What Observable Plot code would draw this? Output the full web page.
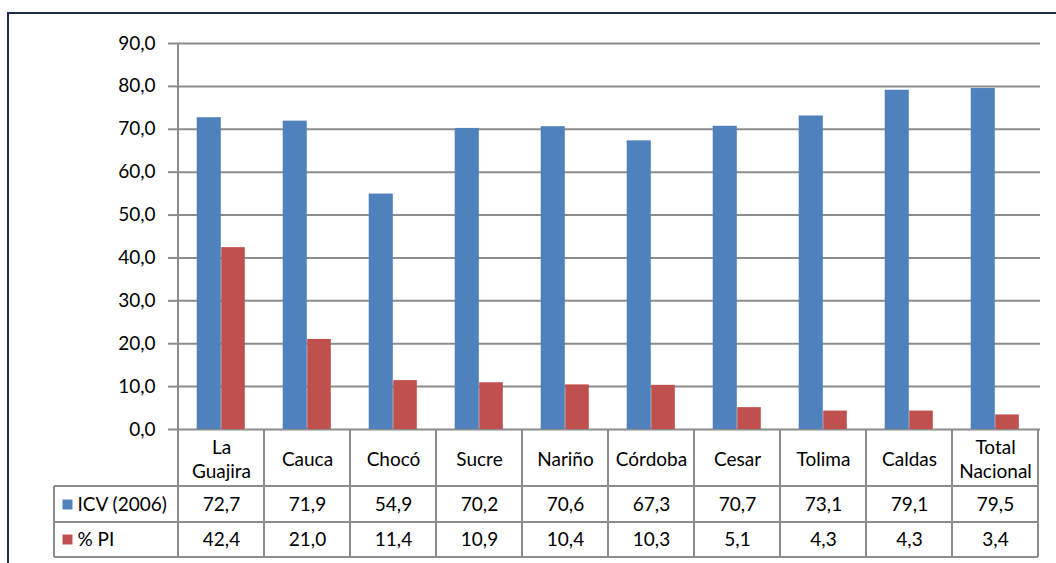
<!DOCTYPE html>
<html>
<head>
<meta charset="utf-8">
<script src="https://cdn.jsdelivr.net/npm/d3@7"></script>
<script src="https://cdn.jsdelivr.net/npm/@observablehq/plot@0.6"></script>
<style>
  html, body { margin: 0; padding: 0; background: #fff; overflow: hidden; }
  #wrap { position: relative; width: 1056px; height: 563px; }
  #frame { position: absolute; left: 7px; top: 12px; width: 1100px; height: 600px;
           border: 2px solid #1c2b49; pointer-events: none; }
  #chart { position: absolute; left: 0; top: 0; }
</style>
</head>
<body>
<div id="wrap"><div id="chart"></div><div id="frame"></div></div>
<script>
const categories = ["La Guajira", "Cauca", "Chocó", "Sucre", "Nariño", "Córdoba", "Cesar", "Tolima", "Caldas", "Total Nacional"];
const icv = [72.7, 71.9, 54.9, 70.2, 70.6, 67.3, 70.7, 73.1, 79.1, 79.5];
const pi = [42.4, 21.0, 11.4, 10.9, 10.4, 10.3, 5.1, 4.3, 4.3, 3.4];
const seriesNames = ["ICV (2006)", "% PI"];
const seriesColors = ["#4f81bd", "#c0504d"];
const yTicks = [0, 10, 20, 30, 40, 50, 60, 70, 80, 90];

const rows = categories.map((c, i) => ({cat: c, icv: icv[i], pi: pi[i]}));
const fmt = v => d3.format(".1f")(v).replace(".", ",");

const gridColor = "#8c8c8c";
const rowHeights = [57, 36, 35];
const legendLeft = 54;
const fs = 19;

function tableLines(index, scales, values, dims) {
  const x = scales.x;
  const bw = x.bandwidth();
  const g = d3.create("svg:g").attr("stroke", gridColor).attr("stroke-width", 2).attr("fill", "none");
  const top = dims.height - dims.marginBottom;
  const r1 = top + rowHeights[0];
  const r2 = r1 + rowHeights[1];
  const r3 = r2 + rowHeights[2];
  const x0 = x(categories[0]);
  const x1 = x(categories[categories.length - 1]) + bw;
  g.append("line").attr("x1", x0).attr("x2", x0).attr("y1", dims.marginTop).attr("y2", r3);
  categories.forEach((c, i) => {
    if (i === 0) return;
    g.append("line").attr("x1", x(c)).attr("x2", x(c)).attr("y1", top).attr("y2", r3);
  });
  g.append("line").attr("x1", x1).attr("x2", x1).attr("y1", top).attr("y2", r3);
  g.append("line").attr("x1", legendLeft).attr("x2", legendLeft).attr("y1", r1).attr("y2", r3);
  [r1, r2, r3].forEach(yy => {
    g.append("line").attr("x1", legendLeft).attr("x2", x1).attr("y1", yy).attr("y2", yy);
  });
  return g.node();
}

const bw = (1056 - 176 - 16) / categories.length;
const textStyle = {frameAnchor: "bottom", lineAnchor: "middle", fontSize: fs, fill: "#000"};
const legendText = (i, dy) => Plot.text([seriesNames[i]], {text: d => d, frameAnchor: "bottom-left", dx: 77 - 176, dy, lineAnchor: "middle", textAnchor: "start", fontSize: fs, fill: "#000"});
const legendSwatch = (i, dy) => Plot.dot([seriesNames[i]], {frameAnchor: "bottom-left", dx: 67 - 176, dy, symbol: "square", r: 5.6, fill: seriesColors[i], stroke: "none"});

const plot = Plot.plot({
  width: 1056,
  height: 563,
  marginLeft: 176,
  marginRight: 16,
  marginTop: 43,
  marginBottom: 134,
  style: {fontFamily: "Lato, 'Open Sans', sans-serif", fontSize: fs + "px", color: "#000", background: "transparent"},
  x: {domain: categories, padding: 0, axis: null},
  y: {domain: [0, 90], ticks: yTicks, tickFormat: fmt, label: null},
  marks: [
    Plot.gridY(yTicks, {stroke: gridColor, strokeOpacity: 1, strokeWidth: 2}),
    Plot.axisY({ticks: yTicks, tickFormat: fmt, tickSize: 8, tickPadding: 13, stroke: gridColor, strokeWidth: 2, label: null, fontSize: fs}),
    Plot.barY(rows, {x: "cat", y: "icv", fill: seriesColors[0], insetLeft: bw / 2 - 24.5, insetRight: bw / 2}),
    Plot.barY(rows, {x: "cat", y: "pi", fill: seriesColors[1], insetLeft: bw / 2, insetRight: bw / 2 - 24}),
    tableLines,
    Plot.text(rows, {...textStyle, x: "cat", text: d => d.cat.replace(" ", "\n"), dy: 29, lineHeight: 1.22}),
    Plot.text(rows, {...textStyle, x: "cat", text: d => fmt(d.icv), dy: 75}),
    Plot.text(rows, {...textStyle, x: "cat", text: d => fmt(d.pi), dy: 110}),
    legendSwatch(0, 75), legendText(0, 75),
    legendSwatch(1, 110), legendText(1, 110)
  ]
});
document.getElementById("chart").appendChild(plot);
</script>
</body>
</html>
